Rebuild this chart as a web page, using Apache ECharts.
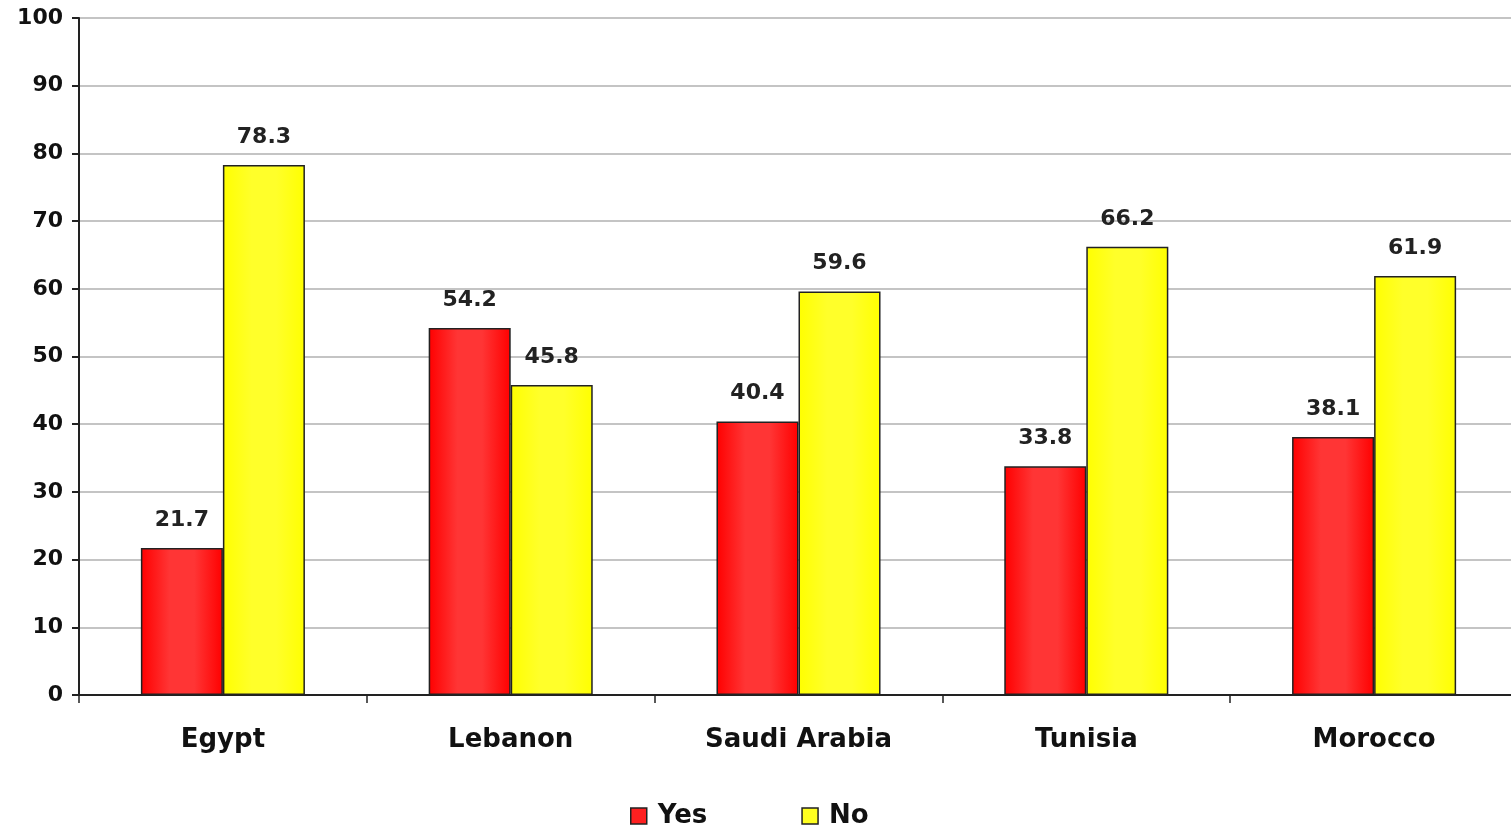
<!DOCTYPE html>
<html>
<head>
<meta charset="utf-8">
<script src="https://cdn.jsdelivr.net/npm/echarts@6/dist/echarts.min.js"></script>
<style>
  html, body { margin: 0; padding: 0; background: #fff; overflow: hidden; }
  /* the plot area runs slightly past the right edge of the window */
  #chart { width: 1518px; height: 831px; }
</style>
</head>
<body>
<div id="chart"></div>
<script>
// Survey answers by country (percent)
const countries = ['Egypt', 'Lebanon', 'Saudi Arabia', 'Tunisia', 'Morocco'];
const yesValues = [21.7, 54.2, 40.4, 33.8, 38.1];
const noValues = [78.3, 45.8, 59.6, 66.2, 61.9];
const seriesNames = ['Yes', 'No'];

const FONT = 'DejaVu Sans, Verdana, sans-serif';

function hGradient(edge, mid) {
  return new echarts.graphic.LinearGradient(0, 0, 1, 0, [
    { offset: 0, color: edge },
    { offset: 0.35, color: mid },
    { offset: 0.65, color: mid },
    { offset: 1, color: edge }
  ]);
}

const labelStyle = {
  show: true,
  position: 'top',
  distance: 17,
  color: '#222',
  fontFamily: FONT,
  fontWeight: 'bold',
  fontSize: 22
};

const chart = echarts.init(document.getElementById('chart'), null, { renderer: 'canvas' });
chart.setOption({
  animation: false,
  backgroundColor: '#fff',
  grid: { left: 79, right: 0, top: 18, bottom: 136, containLabel: false },
  legend: {
    left: 625,
    top: 798,
    itemWidth: 16,
    itemHeight: 16,
    itemGap: 94,
    icon: 'rect',
    textStyle: {
      fontFamily: FONT, fontWeight: 'bold', fontSize: 26, color: '#111',
      padding: [0, 0, 0, 6]
    },
    data: [
      { name: seriesNames[0], itemStyle: { color: '#ff2020', borderColor: '#222', borderWidth: 1.5 } },
      { name: seriesNames[1], itemStyle: { color: '#ffff20', borderColor: '#222', borderWidth: 1.5 } }
    ]
  },
  xAxis: {
    type: 'category',
    data: countries,
    axisLine: { lineStyle: { color: '#222', width: 2 } },
    axisTick: { show: true, length: 8, lineStyle: { color: '#222', width: 1.5 } },
    axisLabel: {
      margin: 32,
      color: '#111',
      fontFamily: FONT,
      fontWeight: 'bold',
      fontSize: 26
    }
  },
  yAxis: {
    type: 'value',
    min: 0,
    max: 100,
    interval: 10,
    axisLine: { show: true, lineStyle: { color: '#222', width: 2 } },
    axisTick: { show: true, length: 7, lineStyle: { color: '#222', width: 2 } },
    splitLine: { lineStyle: { color: '#c4c4c4', width: 2 } },
    axisLabel: {
      margin: 16,
      color: '#111',
      fontFamily: FONT,
      fontWeight: 'bold',
      fontSize: 22
    }
  },
  series: [
    {
      name: seriesNames[0],
      type: 'bar',
      data: yesValues,
      barGap: '0%',
      barCategoryGap: '43%',
      itemStyle: { color: hGradient('#ff0000', '#ff3535'), borderColor: '#222', borderWidth: 1.5 },
      label: labelStyle
    },
    {
      name: seriesNames[1],
      type: 'bar',
      data: noValues,
      barGap: '0%',
      barCategoryGap: '43%',
      itemStyle: { color: hGradient('#ffff00', '#ffff2a'), borderColor: '#222', borderWidth: 1.5 },
      label: labelStyle
    }
  ]
});
</script>
</body>
</html>
